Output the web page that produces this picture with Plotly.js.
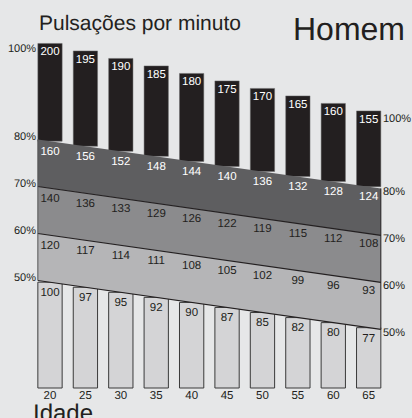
<!DOCTYPE html>
<html>
<head>
<meta charset="utf-8">
<script src="https://cdn.plot.ly/plotly-3.0.1.min.js"></script>
<style>html,body{margin:0;padding:0;background:#e6e7e8;}#chart{width:412px;height:418px;}svg text{-webkit-font-smoothing:antialiased;text-rendering:geometricPrecision;}</style>
</head>
<body>
<div id="chart"></div>
<script>
// ---- data ----
const ages   = [20, 25, 30, 35, 40, 45, 50, 55, 60, 65];
const maxHR  = [200, 195, 190, 185, 180, 175, 170, 165, 160, 155];
const hr80   = [160, 156, 152, 148, 144, 140, 136, 132, 128, 124];
const hr70   = [140, 136, 133, 129, 126, 122, 119, 115, 112, 108];
const hr60   = [120, 117, 114, 111, 108, 105, 102, 99, 96, 93];
const hr50   = [100, 97, 95, 92, 90, 87, 85, 82, 80, 77];
const zonePct = [50, 60, 70, 80];
const pctLabels = ["100%", "80%", "70%", "60%", "50%"];
const titleText = "Pulsações por minuto";
const sexText = "Homem";
const xTitle = "Idade";

// ---- schematic layout helpers ----
const FONT = "Liberation Sans, Arial, Helvetica, sans-serif";
const DARK = "#231f20";
const BG = "#e6e7e8";
const barW = 3.43;                 // bar width in years
const slope = 0.0215;              // band drop per year
const kTop = 0.052;                // top-band height per bpm
const yBottom = -2.251;
const xL = ages[0] - barW / 2, xR = ages[ages.length - 1] + barW / 2;
const line = (p, a) => (p - 50) / 10 - slope * (a - 20);
const yTop = ages.map((a, i) => line(80, a) + (maxHR[i] - hr80[i]) * kTop);
const PX = 47; // px per unit

const traces = [];
// bottom bars (< 50%)
traces.push({
  type: 'bar', x: ages, base: ages.map(() => yBottom),
  y: ages.map(a => line(50, a) - yBottom), width: barW,
  marker: {color: '#d4d4d6', line: {color: '#3a3a3a', width: 1}}, hoverinfo: 'skip'
});
// top bars (80-100%)
traces.push({
  type: 'bar', x: ages, base: ages.map(a => line(80, a)),
  y: ages.map((a, i) => yTop[i] - line(80, a)), width: barW,
  marker: {color: DARK, line: {color: '#6a6a6a', width: 0.5}}, hoverinfo: 'skip'
});
// zone bands
const bandColors = ['#b5b5b7', '#8b8b8d', '#5e5e60'];
for (let z = 0; z < 3; z++) {
  const lo = zonePct[z], hi = zonePct[z + 1];
  traces.push({
    type: 'scatter', mode: 'lines', fill: 'toself', fillcolor: bandColors[z],
    x: [xL, xR, xR, xL, xL],
    y: [line(lo, xL), line(lo, xR), line(hi, xR), line(hi, xL), line(lo, xL)],
    line: {width: 0}, hoverinfo: 'skip'
  });
}
// boundary lines
[50, 60, 70].forEach(p => traces.push({
  type: 'scatter', mode: 'lines', x: [xL, xR], y: [line(p, xL), line(p, xR)],
  line: {color: DARK, width: 1.2}, hoverinfo: 'skip'
}));
[xL, xR].forEach(xe => traces.push({
  type: 'scatter', mode: 'lines', x: [xe, xe], y: [line(50, xe), line(80, xe)],
  line: {color: xe === xR ? DARK : '#555', width: 1}, hoverinfo: 'skip'
}));
// value labels
const lab = (vals, ys, col) => traces.push({
  type: 'scatter', mode: 'text', x: ages, y: ys, text: vals.map(String),
  textposition: 'middle center', cliponaxis: false,
  textfont: {family: FONT, size: 11.5, color: col}, hoverinfo: 'skip'
});
lab(maxHR, yTop.map(v => v - 9 / PX), '#ffffff');
lab(hr80, ages.map(a => line(80, a) - 10.5 / PX), '#ffffff');
lab(hr70, ages.map(a => line(70, a) - 10.5 / PX), DARK);
lab(hr60, ages.map(a => line(60, a) - 10.5 / PX), DARK);
lab(hr50, ages.map(a => line(50, a) - 11 / PX), DARK);
// age labels
traces.push({
  type: 'scatter', mode: 'text', x: ages, y: ages.map(() => yBottom - 8 / PX),
  text: ages.map(String), textposition: 'middle center', cliponaxis: false,
  textfont: {family: FONT, size: 11.5, color: DARK}, hoverinfo: 'skip'
});

const annotations = [];
const leftY = [yTop[0] - 6 / PX, line(80, xL) + 2.5 / PX, line(70, xL) + 2.5 / PX, line(60, xL) + 2.5 / PX, line(50, xL) + 2.5 / PX];
const rightY = [yTop[yTop.length - 1] - 8 / PX, line(80, xR) - 4 / PX, line(70, xR) - 4 / PX, line(60, xR) - 4 / PX, line(50, xR) - 4 / PX];
pctLabels.forEach((t, i) => {
  annotations.push({x: xL, y: leftY[i], xref: 'x', yref: 'y', text: t, showarrow: false,
    xanchor: 'right', yanchor: 'middle', font: {family: FONT, size: 11, color: DARK}});
  annotations.push({x: xR, y: rightY[i], xref: 'x', yref: 'y', text: t, showarrow: false,
    xanchor: 'left', yanchor: 'middle', font: {family: FONT, size: 11, color: DARK}});
});
annotations.push({x: 37 / 412, y: 1 - 23 / 418, xref: 'paper', yref: 'paper', text: titleText,
  showarrow: false, xanchor: 'left', yanchor: 'middle', font: {family: FONT, size: 21, color: DARK}});
annotations.push({x: 291 / 412, y: 1 - 29 / 418, xref: 'paper', yref: 'paper', text: sexText,
  showarrow: false, xanchor: 'left', yanchor: 'middle', font: {family: FONT, size: 32, color: DARK}});
annotations.push({x: 31 / 412, y: 1 - 413 / 418, xref: 'paper', yref: 'paper', text: xTitle,
  showarrow: false, xanchor: 'left', yanchor: 'middle', font: {family: FONT, size: 24, color: DARK}});

const x0 = 20 - 50 / 7.082, x1 = x0 + 412 / 7.082;
const y1 = 282.2 / PX, y0 = (282.2 - 418) / PX;
const layout = {
  width: 412, height: 418, margin: {l: 0, r: 0, t: 0, b: 0, pad: 0},
  paper_bgcolor: BG, plot_bgcolor: BG, showlegend: false, barmode: 'overlay',
  xaxis: {range: [x0, x1], visible: false, fixedrange: true},
  yaxis: {range: [y0, y1], visible: false, fixedrange: true},
  annotations: annotations
};
Plotly.newPlot('chart', traces, layout, {displayModeBar: false, staticPlot: true});
</script>
</body>
</html>
